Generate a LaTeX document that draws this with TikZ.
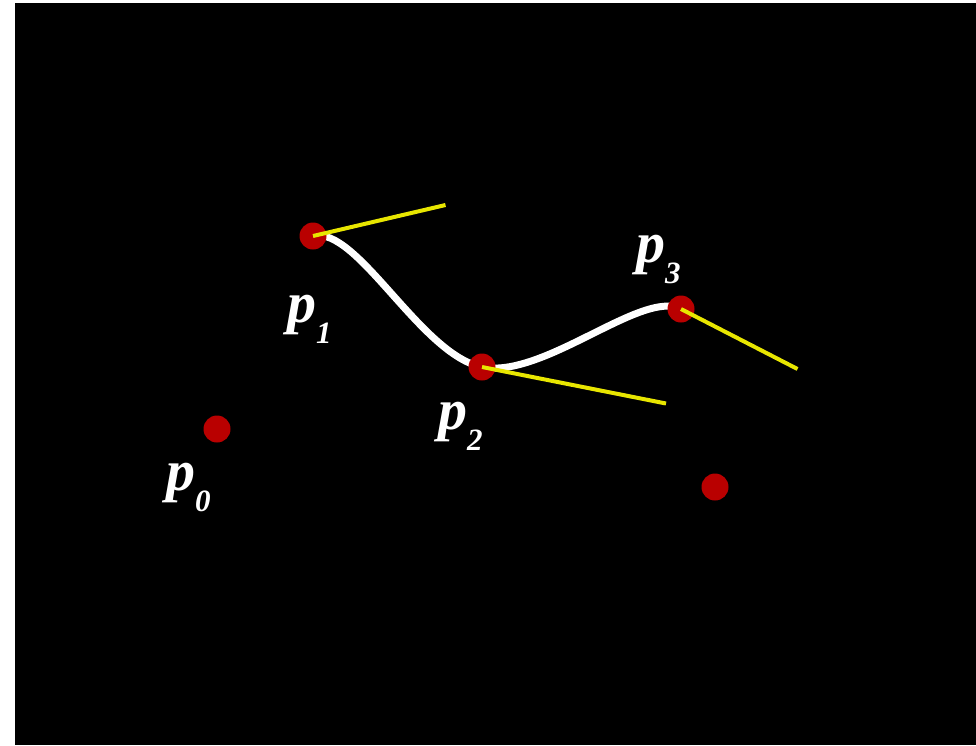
\documentclass[tikz,border=0pt]{standalone}
\usepackage{fontspec}
\setmainfont{Liberation Serif}
\usetikzlibrary{calc}
\definecolor{dotred}{RGB}{185,0,0}
\definecolor{tanyellow}{RGB}{232,230,0}
\begin{document}
\begin{tikzpicture}[x=1pt,y=-1pt,
  dot/.style={circle,fill=dotred,inner sep=0pt,minimum size=27pt},
  curveline/.style={draw=white,line width=7pt},
  tangent/.style={draw=tanyellow,line width=4pt},
  plabel/.style={text=white,inner sep=0pt,anchor=base west,font=\fontsize{58}{58}\selectfont\bfseries\itshape}]
\fill[white] (0,0) rectangle (976,745);
\fill[black] (15,3) rectangle (976,745);
\useasboundingbox (0,0) rectangle (976,745);
\coordinate (p0) at (217,429);
\coordinate (p1) at (313,236);
\coordinate (p2) at (482,367);
\coordinate (p3) at (681,309);
\coordinate (p4) at (715,487);
% curve (Catmull-Rom)
\draw[curveline] (p1) .. controls ($(p1)+0.16667*(p2)-0.16667*(p0)$) and ($(p2)-0.16667*(p3)+0.16667*(p1)$) .. (p2)
  .. controls ($(p2)+0.16667*(p3)-0.16667*(p1)$) and ($(p3)-0.16667*(p4)+0.16667*(p2)$) .. (p3);
% dots
\node[dot] (d0) at (p0) {};
\node[dot] (d1) at (p1) {};
\node[dot] (d2) at (p2) {};
\node[dot] (d3) at (p3) {};
\node[dot] (d4) at (p4) {};
% tangent ends
\coordinate (t1) at ($(p1)+0.5*(p2)-0.5*(p0)$);
\coordinate (t2) at ($(p2)+0.5*(p3)-0.5*(p1)$);
\coordinate (t3) at ($(p3)+0.5*(p4)-0.5*(p2)$);
\draw[tangent] (d1.center) -- (t1);
\draw[tangent] (d2.center) -- (t2);
\draw[tangent] (d3.center) -- (t3);
% labels
\node[plabel] (l0) at (166,490) {p\raisebox{-21pt}{\fontsize{31}{31}\selectfont 0}};
\node[plabel] (l1) at (287,322) {p\raisebox{-21pt}{\fontsize{31}{31}\selectfont 1}};
\node[plabel] (l2) at (438,429) {p\raisebox{-21pt}{\fontsize{31}{31}\selectfont 2}};
\node[plabel] (l3) at (636,262) {p\raisebox{-21pt}{\fontsize{31}{31}\selectfont 3}};
\end{tikzpicture}
\end{document}
